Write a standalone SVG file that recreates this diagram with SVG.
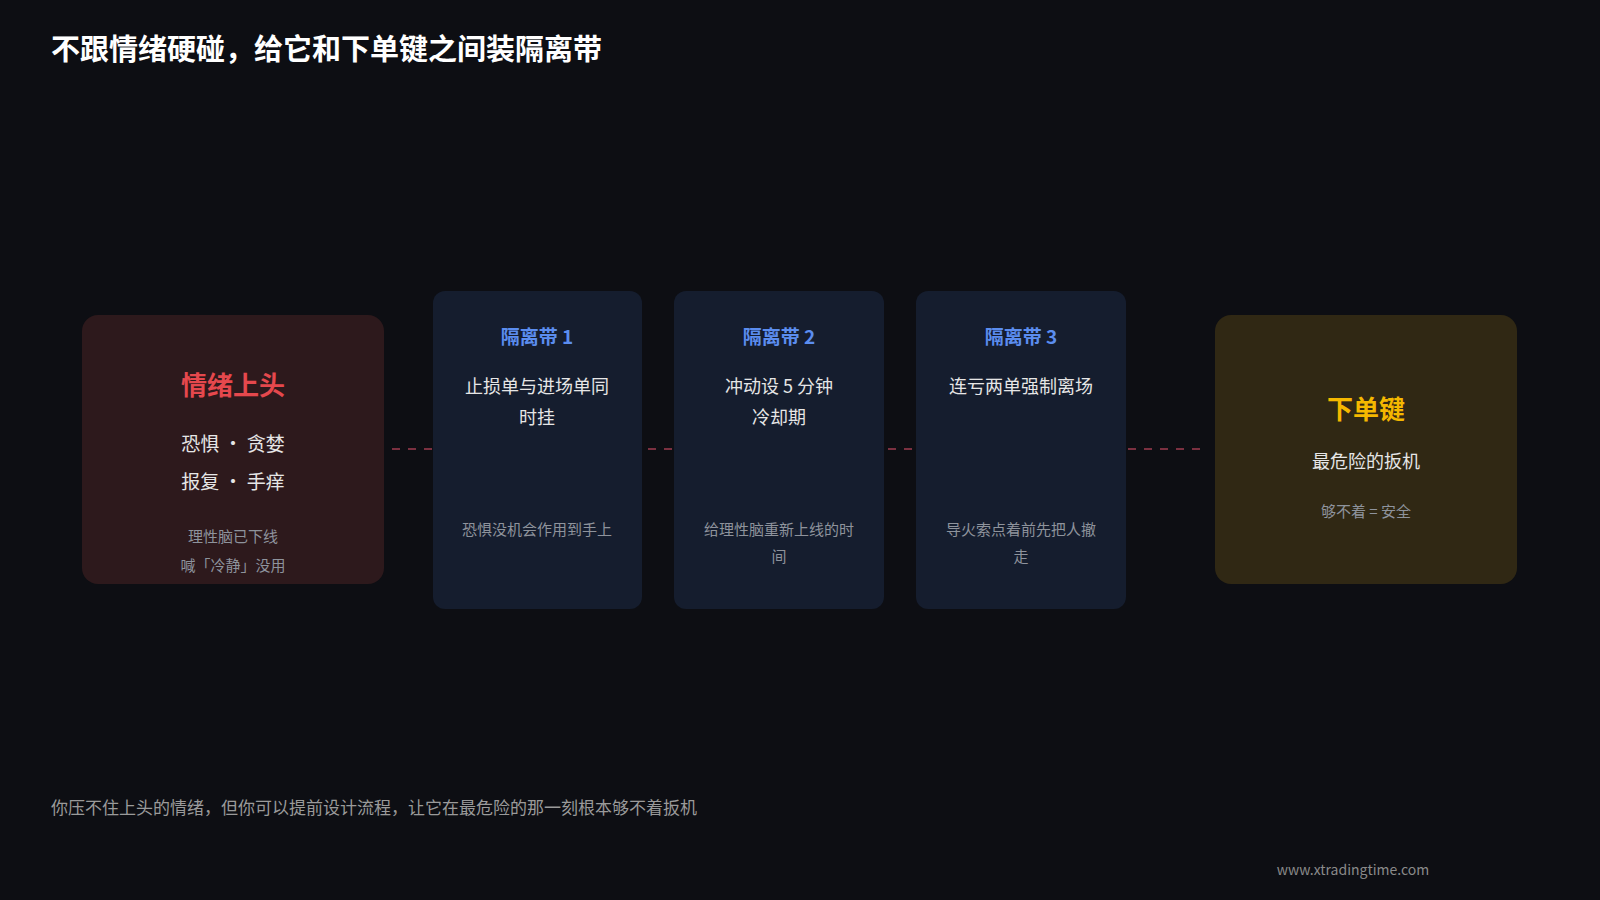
<svg xmlns="http://www.w3.org/2000/svg" width="1600" height="900" viewBox="0 0 1600 900">
<style>
text{font-family:"Noto Sans CJK SC","Noto Sans",sans-serif;text-anchor:middle;dominant-baseline:central}
.t{font-size:19px;font-weight:bold;fill:#5b8def}
.b{font-size:18px;fill:#e6e6e6}
.g{font-size:15px;fill:#8e939c}
.blue{fill:#151d2e}
</style>
<rect width="1600" height="900" fill="#0d0e13"/>
<text x="51" y="47" style="font-size:29px;font-weight:bold;fill:#fff;text-anchor:start">不跟情绪硬碰，给它和下单键之间装隔离带</text>
<g id="connectors">
<line x1="392" y1="449" x2="1200" y2="449" stroke="#7a3040" stroke-width="2" stroke-dasharray="8,8"/>
</g>
<g id="emotion">
<rect x="82" y="315" width="302" height="269" rx="16" fill="#2d191c"/>
<text x="233" y="383" style="font-size:26px;font-weight:bold;fill:#e5484d">情绪上头</text>
<text x="233" y="442" class="b" style="font-size:19px">恐惧 · 贪婪</text>
<text x="233" y="480" class="b" style="font-size:19px">报复 · 手痒</text>
<text x="233" y="535" class="g">理性脑已下线</text>
<text x="233" y="564" class="g">喊「冷静」没用</text>
</g>
<g id="zone1">
<rect x="433" y="291" width="209" height="318" rx="12" class="blue"/>
<text x="537" y="335" class="t">隔离带 1</text>
<text x="537" y="385" class="b">止损单与进场单同</text>
<text x="537" y="416" class="b">时挂</text>
<text x="537" y="528" class="g">恐惧没机会作用到手上</text>
</g>
<g id="zone2">
<rect x="674" y="291" width="210" height="318" rx="12" class="blue"/>
<text x="779" y="335" class="t">隔离带 2</text>
<text x="779" y="385" class="b">冲动设 5 分钟</text>
<text x="779" y="416" class="b">冷却期</text>
<text x="779" y="528" class="g">给理性脑重新上线的时</text>
<text x="779" y="555" class="g">间</text>
</g>
<g id="zone3">
<rect x="916" y="291" width="210" height="318" rx="12" class="blue"/>
<text x="1021" y="335" class="t">隔离带 3</text>
<text x="1021" y="385" class="b">连亏两单强制离场</text>
<text x="1021" y="528" class="g">导火索点着前先把人撤</text>
<text x="1021" y="555" class="g">走</text>
</g>
<g id="trigger">
<rect x="1215" y="315" width="302" height="269" rx="16" fill="#302814"/>
<text x="1366" y="407" style="font-size:26px;font-weight:bold;fill:#f5b800">下单键</text>
<text x="1366" y="460" class="b">最危险的扳机</text>
<text x="1366" y="510" class="g">够不着 = 安全</text>
</g>
<text x="51" y="806" style="font-size:17px;fill:#9a9a9a;text-anchor:start">你压不住上头的情绪，但你可以提前设计流程，让它在最危险的那一刻根本够不着扳机</text>
<text x="1353" y="869" style="font-size:14px;fill:#8a8a8a">www.xtradingtime.com</text>
</svg>
